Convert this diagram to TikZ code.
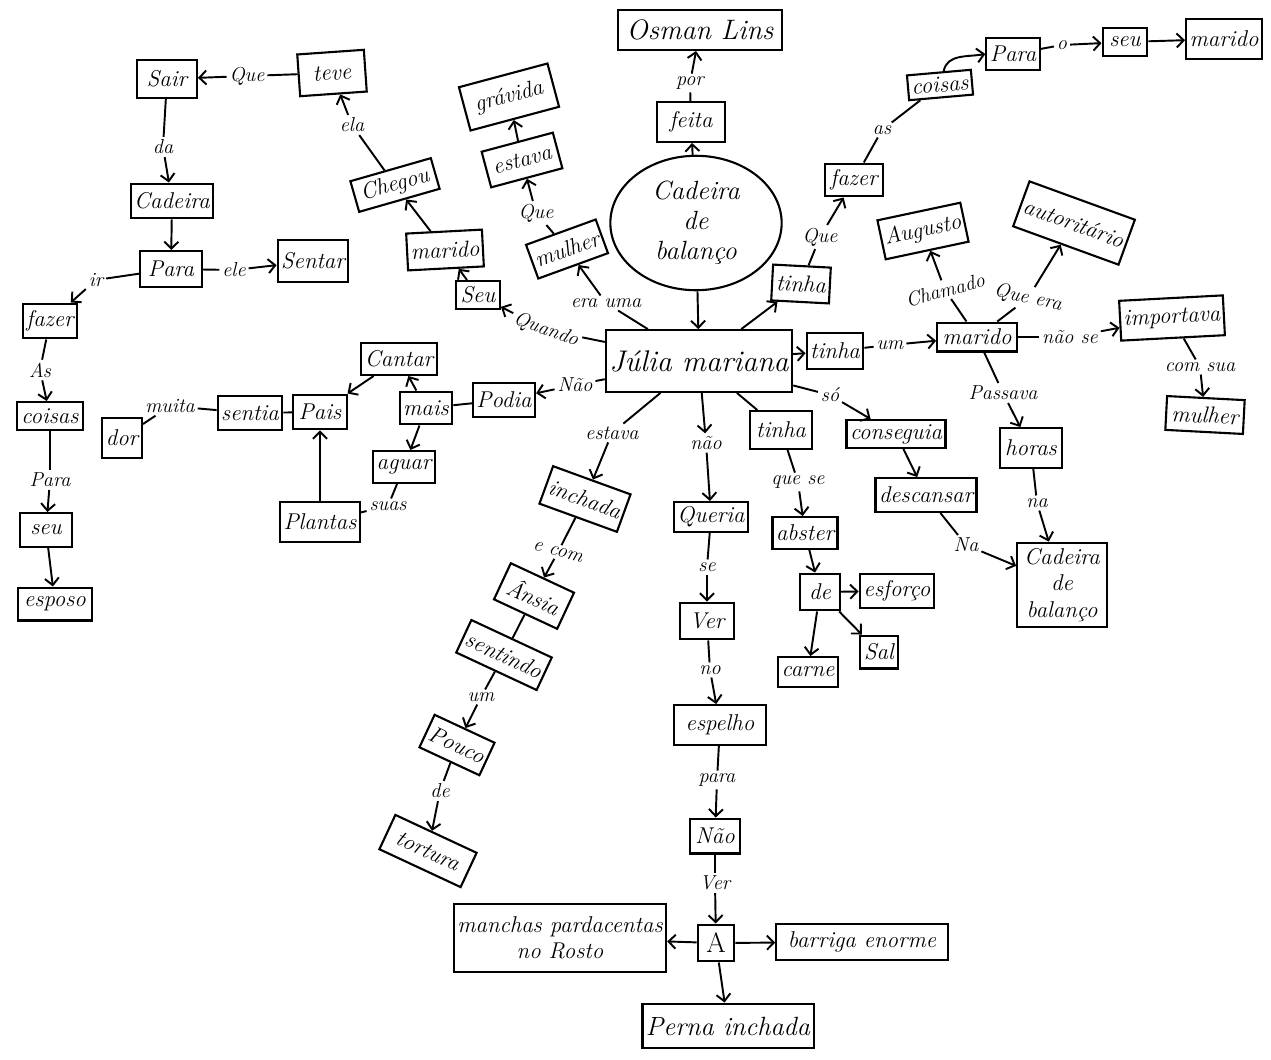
\documentclass[tikz,border=0pt]{standalone}
\usepackage{fontspec}
\usetikzlibrary{arrows.meta,shapes.geometric}
\tikzset{
  wh/.style 2 args={minimum width=#1*0.5669pt, minimum height=#2*0.5669pt},
  box/.style={draw, line width=1.2pt, inner sep=2pt, font=\fontsize{13}{15}\selectfont\itshape, align=center},
  lbl/.style={inner sep=1.5pt, font=\fontsize{11.5}{13}\selectfont\itshape},
  con/.style={line width=1.1pt},
  arr/.style={con, -{Straight Barb[length=4pt,width=8pt]}},
}
\begin{document}
\begin{tikzpicture}[x=0.02cm,y=-0.02cm]
\fill[white] (0,0) rectangle (1271,1059);
\useasboundingbox (0,0) rectangle (1271,1059);

% ---------- central ----------
\node[box, wh={162}{62}, font=\fontsize{17}{19}\selectfont\itshape] (julia) at (699,361) {Júlia mariana};
\node[draw, ellipse, line width=1.2pt, wh={172}{120}, align=center, font=\fontsize{15}{17}\selectfont\itshape] (cadbal) at (696,223) {Cadeira\\de\\balanço};
\node[box, wh={68}{40}] (feita) at (691,122) {feita};
\node[lbl] (lpor) at (690,83) {por};
\node[box, wh={165}{40}, font=\fontsize{16}{18}\selectfont\itshape] (osman) at (700,30) {Osman Lins};

% ---------- top left ----------
\node[box, wh={60}{38}] (sair) at (167,79) {Sair};
\node[box, wh={67}{42}, rotate=4] (teve) at (332,73) {teve};
\node[lbl] (lque1) at (247,76) {Que};
\node[lbl] (lda) at (163,147) {da};
\node[box, wh={79}{35}] (cad1) at (172,201) {Cadeira};
\node[box, wh={62}{36}] (para1) at (171,269) {Para};
\node[lbl] (lele) at (234,270) {ele};
\node[box, wh={70}{42}] (sentar) at (313,261) {Sentar};
\node[lbl] (lir) at (96,280) {ir};
\node[box, wh={54}{35}] (fazer1) at (50,321) {fazer};
\node[lbl] (las1) at (40,370) {As};
\node[box, wh={66}{28}] (coisas1) at (50,416) {coisas};
\node[lbl] (lpara1) at (50,480) {Para};
\node[box, wh={52}{34}] (seu1) at (46,530) {seu};
\node[box, wh={74}{33}] (esposo) at (55,604) {esposo};

% ---------- upper middle ----------
\node[box, wh={84}{32}, rotate=16] (chegou) at (395,185) {Chegou};
\node[lbl] (lela) at (352,125) {ela};
\node[box, wh={75}{37}, rotate=3] (marido1) at (445,250) {marido};
\node[box, wh={44}{28}] (seu2) at (478,295) {Seu};
\node[lbl, rotate=-20] (lquando) at (546,330) {Quando};
\node[box, wh={71}{36}, rotate=20] (mulher1) at (567,249) {mulher};
\node[lbl] (leraum) at (606,303) {era uma};
\node[lbl] (lque2) at (536,213) {Que};
\node[box, wh={74}{37}, rotate=15] (estava) at (522,160) {estava};
\node[box, wh={92}{45}, rotate=15] (gravida) at (509,97) {grávida};

% ---------- top right ----------
\node[box, wh={58}{36}, rotate=-3] (tinhaup) at (801,284) {tinha};
\node[lbl] (lque3) at (820,237) {Que};
\node[box, wh={58}{33}] (fazer2) at (854,180) {fazer};
\node[lbl] (las2) at (882,130) {as};
\node[box, wh={64}{25}, rotate=5] (coisas2) at (940,85) {coisas};
\node[box, wh={50}{32}] (para2) at (1013,54) {Para};
\node[lbl] (lo) at (1062,45) {o};
\node[box, wh={45}{28}] (seu3) at (1125,42) {seu};
\node[box, wh={72}{40}] (marido2) at (1224,39) {marido};

% ---------- right ----------
\node[box, wh={54}{36}] (tinhar) at (835,351) {tinha};
\node[lbl] (lum1) at (890,345) {um};
\node[box, wh={80}{29}] (marido3) at (977,337) {marido};
\node[lbl, rotate=15] (lchamado) at (945,290) {Chamado};
\node[box, wh={72}{40}, rotate=12] (augusto) at (923,231) {Augusto};
\node[lbl, rotate=-12] (lqueera) at (1028,298) {Que era};
\node[box, wh={97}{48}, rotate=-20] (autor) at (1074,223) {autoritário};
\node[lbl] (lnaose) at (1070,337) {não se};
\node[box, wh={97}{40}, rotate=3] (importava) at (1172,318) {importava};
\node[lbl] (lcomsua) at (1200,367) {com sua};
\node[box, wh={78}{34}, rotate=-3] (mulher2) at (1205,415) {mulher};
\node[lbl] (lpassava) at (1003,393) {Passava};
\node[box, wh={62}{40}] (horas) at (1031,448) {horas};
\node[lbl] (lna1) at (1037,503) {na};
\node[box, wh={90}{85}] (cadbox) at (1062,585) {Cadeira\\de\\balanço};
\node[lbl] (lso) at (830,395) {só};
\node[box, wh={86}{28}] (conseguia) at (896,434) {conseguia};
\node[box, wh={78}{34}] (descansar) at (926,495) {descansar};
\node[lbl] (lna2) at (966,545) {Na};

% ---------- lower middle ----------
\node[box, wh={62}{38}] (tinhalow) at (781,430) {tinha};
\node[lbl] (lquese) at (798,482) {que se};
\node[box, wh={64}{32}] (abster) at (805,533) {abster};
\node[box, wh={40}{37}] (de) at (820,592) {de};
\node[box, wh={75}{35}] (esforco) at (897,591) {esforço};
\node[box, wh={38}{33}] (sal) at (879,652) {Sal};
\node[box, wh={53}{30}] (carne) at (808,672) {carne};

\node[lbl] (lestava) at (612,433) {estava};
\node[box, wh={80}{40}, rotate=-20] (inchada) at (585,499) {inchada};
\node[lbl, rotate=-15] (lecom) at (558,552) {e com};
\node[box, wh={70}{40}, rotate=-25] (ansia) at (534,596) {Ânsia};
\node[box, wh={78}{36}, rotate=-25] (sentindo) at (504,655) {sentindo};
\node[lbl] (lum2) at (481,697) {um};
\node[box, wh={60}{36}, rotate=-25] (pouco) at (457,745) {Pouco};
\node[lbl] (lde) at (440,791) {de};
\node[box, wh={90}{38}, rotate=-25] (tortura) at (428,851) {tortura};

\node[lbl] (lnao) at (706,443) {não};
\node[box, wh={73}{30}] (queria) at (711,517) {Queria};
\node[lbl] (lse) at (707,567) {se};
\node[box, wh={55}{37}] (ver) at (707,621) {Ver};
\node[lbl] (lno) at (710,670) {no};
\node[box, wh={93}{40}] (espelho) at (720,725) {espelho};
\node[lbl] (lpara2) at (717,780) {para};
\node[box, wh={50}{35}] (naobox) at (715,836) {Não};
\node[lbl] (lver) at (715,883) {Ver};
\node[box, wh={37}{37}, font=\fontsize{16}{18}\selectfont] (a) at (716,943) {A};
\node[box, wh={193}{68}] (manchas) at (560,938) {manchas pardacentas\\no Rosto};
\node[box, wh={172}{37}] (barriga) at (862,942) {barriga enorme};
\node[box, wh={165}{45}, font=\fontsize{15}{17}\selectfont\itshape] (perna) at (728,1026) {Perna inchada};

% ---------- middle left ----------
\node[lbl] (lnao2) at (575,385) {Não};
\node[box, wh={42}{34}] (podia) at (504,400) {Podia};
\node[box, wh={48}{33}] (mais) at (426,408) {mais};
\node[box, wh={60}{32}] (cantar) at (399,359) {Cantar};
\node[box, wh={54}{35}] (pais) at (320,412) {Pais};
\node[box, wh={62}{32}] (aguar) at (404,467) {aguar};
\node[lbl] (lsuas) at (388,506) {suas};
\node[box, wh={63}{40}] (plantas) at (320,522) {Plantas};
\node[box, wh={56}{35}] (sentia) at (250,413) {sentia};
\node[lbl] (lmuita) at (170,406) {muita};
\node[box, wh={40}{40}] (dor) at (122,438) {dor};

% ---------- connectors ----------
\draw[con] (teve) -- (lque1); \draw[arr] (lque1) -- (sair);
\draw[con] (sair) -- (lda); \draw[arr] (lda) -- (cad1);
\draw[arr] (cad1) -- (para1);
\draw[con] (para1) -- (lele); \draw[arr] (lele) -- (sentar);
\draw[con] (para1) -- (lir); \draw[arr] (lir) -- (fazer1);
\draw[con] (fazer1) -- (las1); \draw[arr] (las1) -- (coisas1);
\draw[con] (coisas1) -- (lpara1); \draw[arr] (lpara1) -- (seu1);
\draw[arr] (seu1) -- (esposo);

\draw[con] (chegou) -- (lela); \draw[arr] (lela) -- (teve);
\draw[arr] (marido1) -- (chegou);
\draw[arr] (seu2) -- (marido1);
\draw[con] (julia) -- (lquando); \draw[arr] (lquando) -- (seu2);
\draw[con] (julia) -- (leraum); \draw[arr] (leraum) -- (mulher1);
\draw[con] (mulher1) -- (lque2); \draw[arr] (lque2) -- (estava);
\draw[arr] (estava) -- (gravida);

\draw[arr] (cadbal) -- (feita);
\draw[con] (feita) -- (lpor); \draw[arr] (lpor) -- (osman);
\draw[arr] (cadbal) -- (julia);

\draw[arr] (julia) -- (tinhaup);
\draw[con] (tinhaup) -- (lque3); \draw[arr] (lque3) -- (fazer2);
\draw[con] (fazer2) -- (las2); \draw[con] (las2) -- (coisas2);
\draw[arr] (coisas2.70) to[out=80,in=190] (para2.west);
\draw[con] (para2) -- (lo); \draw[arr] (lo) -- (seu3);
\draw[arr] (seu3) -- (marido2);

\draw[arr] (julia) -- (tinhar);
\draw[con] (tinhar) -- (lum1); \draw[arr] (lum1) -- (marido3);
\draw[con] (marido3) -- (lchamado); \draw[arr] (lchamado) -- (augusto);
\draw[con] (marido3) -- (lqueera); \draw[arr] (lqueera) -- (autor);
\draw[con] (marido3) -- (lnaose); \draw[arr] (lnaose) -- (importava);
\draw[con] (importava) -- (lcomsua); \draw[arr] (lcomsua) -- (mulher2);
\draw[con] (marido3) -- (lpassava); \draw[arr] (lpassava) -- (horas);
\draw[con] (horas) -- (lna1); \draw[arr] (lna1) -- (cadbox);
\draw[con] (julia) -- (lso); \draw[arr] (lso) -- (conseguia);
\draw[arr] (conseguia) -- (descansar);
\draw[con] (descansar) -- (lna2); \draw[arr] (lna2) -- (cadbox);

\draw[con] (julia) -- (tinhalow);
\draw[con] (tinhalow) -- (lquese); \draw[arr] (lquese) -- (abster);
\draw[arr] (abster) -- (de);
\draw[arr] (de) -- (esforco);
\draw[arr] (de) -- (sal);
\draw[arr] (de) -- (carne);

\draw[con] (julia) -- (lestava); \draw[arr] (lestava) -- (inchada);
\draw[con] (inchada) -- (lecom); \draw[arr] (lecom) -- (ansia);
\draw[con] (ansia) -- (sentindo);
\draw[con] (sentindo) -- (lum2); \draw[arr] (lum2) -- (pouco);
\draw[con] (pouco) -- (lde); \draw[arr] (lde) -- (tortura);

\draw[arr] (julia) -- (lnao); \draw[arr] (lnao) -- (queria);
\draw[con] (queria) -- (lse); \draw[arr] (lse) -- (ver);
\draw[con] (ver) -- (lno); \draw[arr] (lno) -- (espelho);
\draw[con] (espelho) -- (lpara2); \draw[arr] (lpara2) -- (naobox);
\draw[con] (naobox) -- (lver); \draw[arr] (lver) -- (a);
\draw[arr] (a) -- (manchas);
\draw[arr] (a) -- (barriga);
\draw[arr] (a) -- (perna);

\draw[con] (julia) -- (lnao2); \draw[arr] (lnao2) -- (podia);
\draw[con] (podia) -- (mais);
\draw[arr] (mais) -- (cantar);
\draw[arr] (cantar) -- (pais);
\draw[arr] (mais) -- (aguar);
\draw[con] (aguar) -- (lsuas); \draw[con] (lsuas) -- (plantas);
\draw[arr] (plantas) -- (pais);
\draw[con] (pais) -- (sentia);
\draw[con] (sentia) -- (lmuita); \draw[con] (lmuita) -- (dor);
\end{tikzpicture}
\end{document}
